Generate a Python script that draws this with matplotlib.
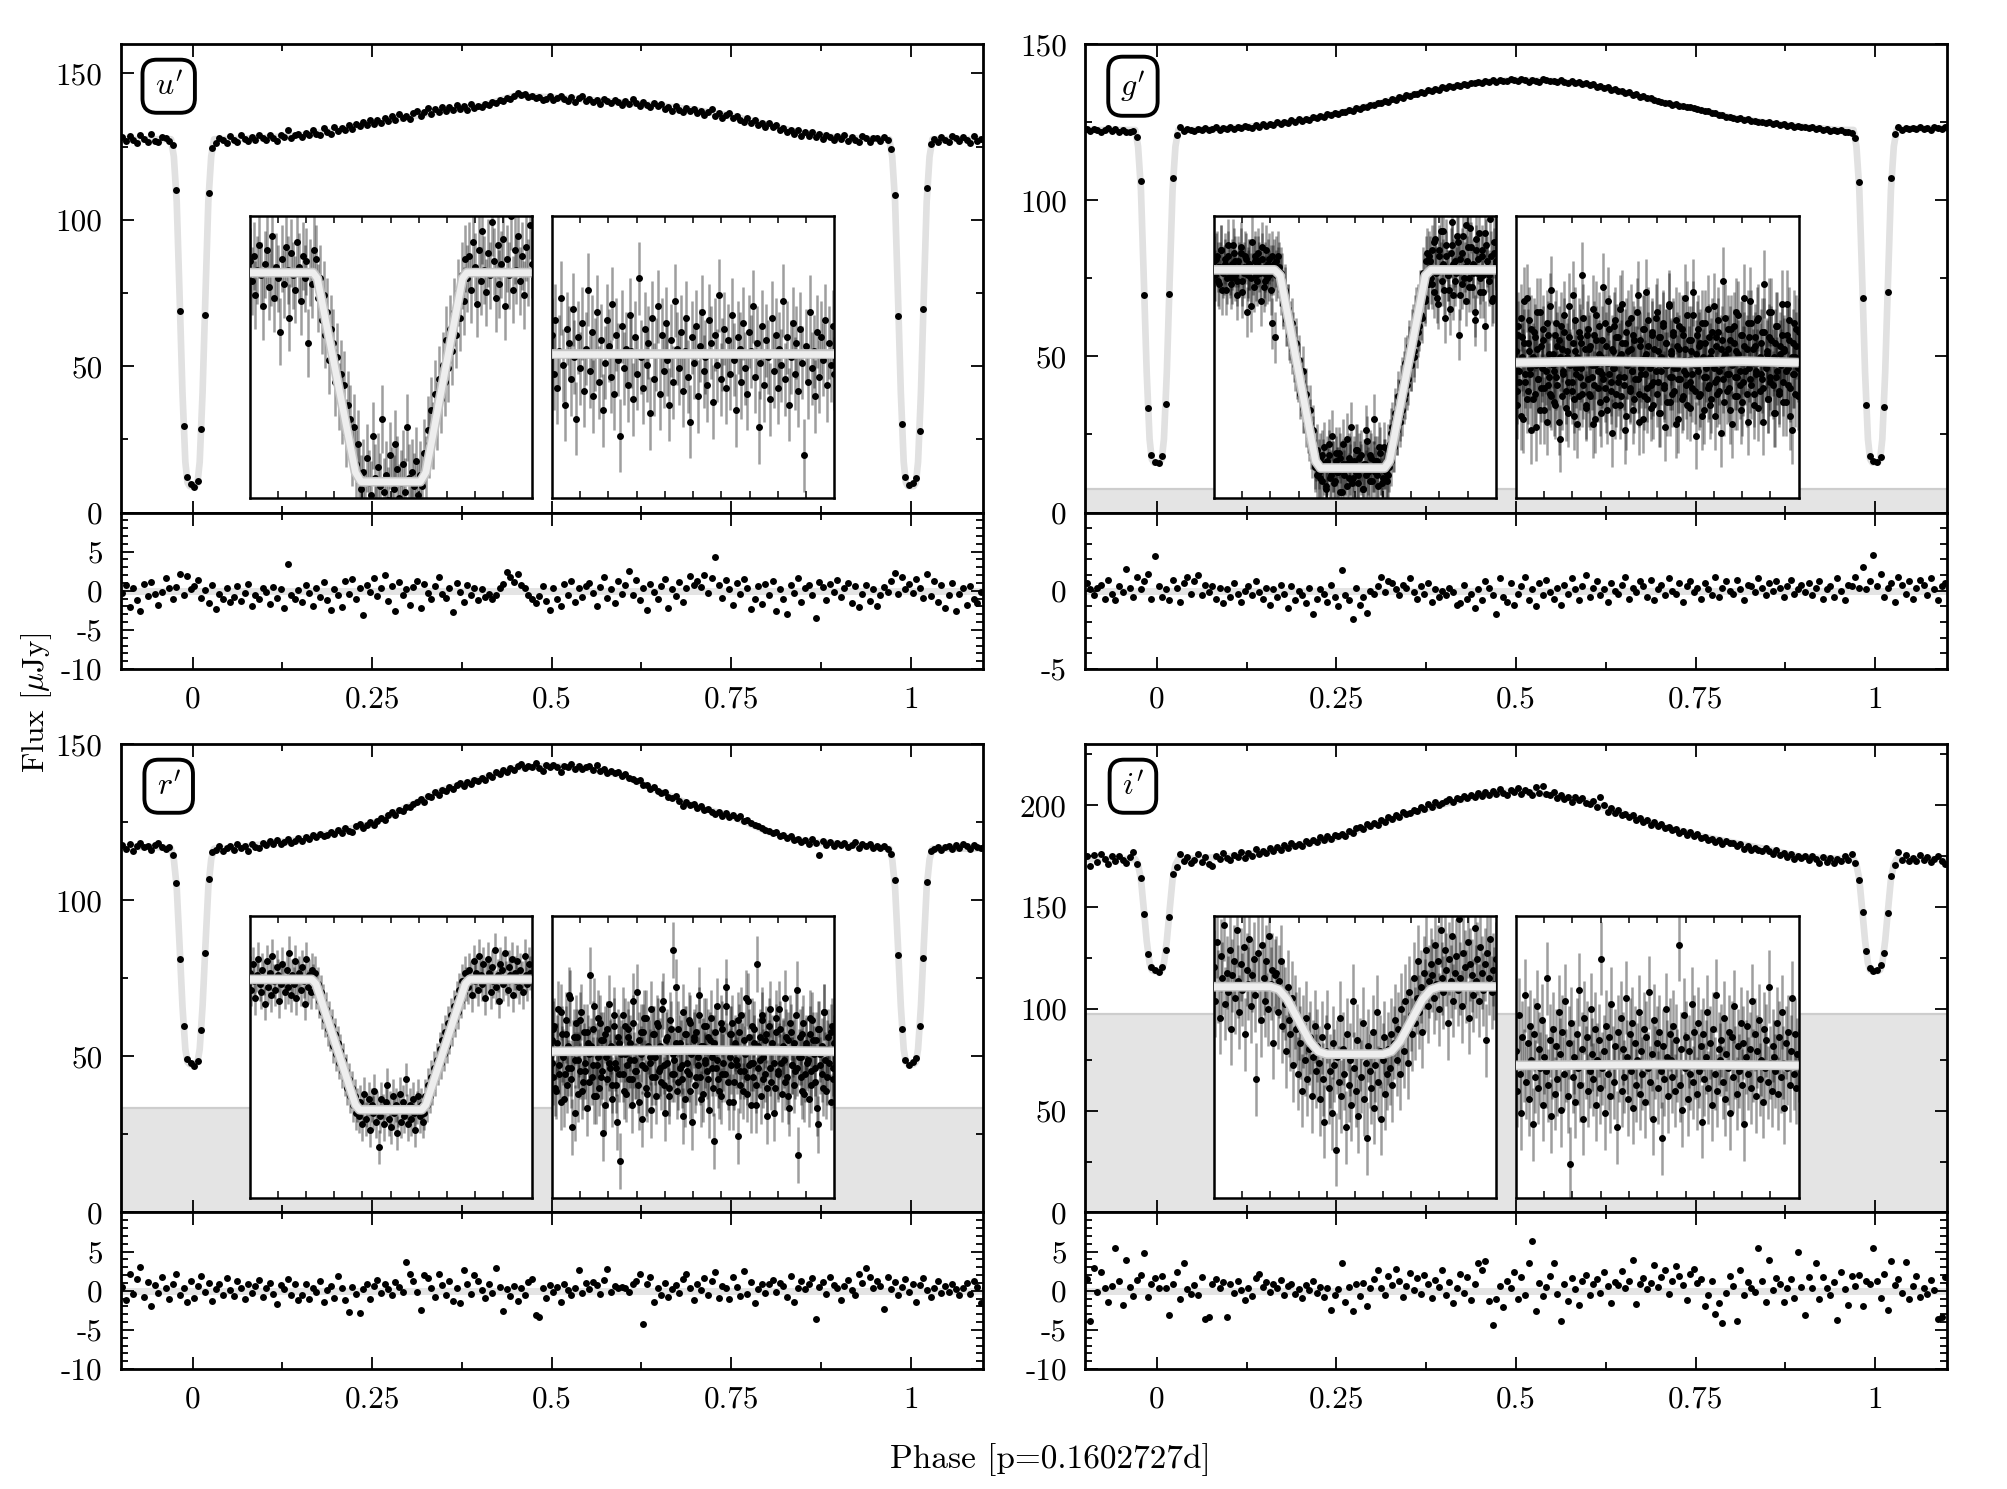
# light curves of the eclipsing binary in u' g' r' i', with residuals and zoom insets
import numpy as np
import matplotlib
matplotlib.use('Agg')
import matplotlib.pyplot as plt
from matplotlib.ticker import MultipleLocator

plt.rcParams['font.family'] = 'cmr10'
plt.rcParams['mathtext.fontset'] = 'cm'
plt.rcParams['axes.unicode_minus'] = False

# ---------------- data ----------------
# phase of every observation bin (0.005 wide)
phase = -0.0975 + 0.005 * np.arange(241)

flux_u = [128.1, 126.9, 128.6, 127.2, 126.3, 128.9, 127.7, 126.6, 129.2, 127.0,
          126.4, 128.3, 127.9, 126.8, 125.6, 110.2, 68.9, 29.6, 12.1, 9.6,
          8.7, 10.9, 28.4, 67.5, 109.1, 124.6, 126.2, 128.0, 127.3, 126.1,
          128.5, 127.1, 126.4, 128.8, 127.6, 126.9, 128.2, 127.4, 129.0, 127.8,
          127.3, 128.9, 127.8, 126.9, 129.1, 128.2, 130.6, 127.9, 128.8, 129.4,
          128.2, 129.7, 128.9, 130.5, 129.3, 128.8, 131.2, 130.0, 129.4, 131.6,
          130.2, 131.4, 130.6, 132.5, 131.0, 132.8, 131.9, 133.4, 132.2, 134.1,
          132.7, 133.9, 133.2, 134.8, 133.6, 135.5, 134.0, 136.2, 134.6, 135.3,
          134.4, 136.3, 137.1, 135.6, 136.9, 138.0, 136.2, 137.8, 136.9, 138.5,
          137.0, 138.4, 137.6, 139.2, 137.9, 138.8, 137.5, 139.5, 138.3, 139.0,
          138.4, 139.6, 139.1, 140.3, 139.8, 141.0, 140.4, 141.6, 141.2, 142.4,
          143.4, 142.6, 143.1, 141.9, 142.3, 141.5, 142.0, 140.8, 141.4, 142.2,
          140.9, 141.7, 142.4, 141.1, 140.6, 141.9, 140.3, 141.5, 142.1, 140.7,
          141.4, 140.2, 140.9, 139.6, 141.2, 140.5, 139.8, 141.0, 140.1, 139.3,
          140.4, 139.5, 141.2, 139.8, 138.9, 140.1, 139.3, 138.4, 139.9, 138.7,
          139.4, 137.9, 138.6, 137.2, 138.9, 137.6, 136.8, 138.1, 137.0, 137.9,
          136.6, 137.2, 135.9, 136.8, 137.9, 135.4, 136.3, 134.9, 135.8, 136.5,
          134.8, 135.6, 134.2, 133.5, 134.6, 133.1, 133.9, 132.4, 133.2, 131.8,
          132.9, 131.6, 132.2, 130.5, 131.4, 130.0, 130.8, 129.3, 130.5, 128.7,
          129.8, 128.6, 130.1, 128.2, 129.4, 127.5, 128.9, 128.1, 127.2, 128.6,
          127.6, 128.8, 126.9, 128.2, 127.1, 126.4, 128.5, 127.8, 126.7, 128.0,
          127.9, 126.8, 128.4, 127.3, 124.2, 108.5, 67.0, 30.2, 12.3, 9.3,
          10.1, 11.8, 27.8, 69.4, 110.8, 125.9, 127.6, 126.5, 128.3, 127.1,
          126.4, 128.6, 127.8, 126.9, 128.1, 127.3, 126.2, 128.5, 127.0, 127.7, 126.8]

resid_u = [-0.3, 0.8, -2.1, 0.4, -1.2, -2.6, 0.9, -0.7, 1.1, -0.4,
           -1.8, -0.2, 1.6, 0.3, -1.1, 0.5, 2.2, -0.6, 1.9, 0.2,
           0.6, 1.4, -0.9, 0.1, -1.6, 0.7, -2.3, -0.4, -1.0, 0.3,
           -1.5, -0.8, 0.6, -1.3, -0.3, 0.9, -2.0, -0.5, -1.1, 0.4,
           -0.2, -1.7, 0.5, -0.9, 0.2, -2.2, 3.4, -0.6, -1.0, 0.1,
           -1.4, 0.7, -0.3, -1.9, 0.4, -0.8, 1.1, -1.2, -2.4, 0.2,
           -0.6, -2.1, 1.2, -0.4, 1.5, -1.0, 0.3, -3.1, 0.8, -0.2,
           1.6, -0.7, 0.4, 2.0, -1.3, 0.6, -2.6, 1.1, -0.5, 0.2,
           -1.8, 0.5, 1.3, -2.2, 0.9, -0.3, -1.1, 0.6, 1.7, -0.4,
           -0.9, 0.3, -2.7, 1.0, -0.2, -1.5, 0.7, -0.6, 0.4, -1.2,
           0.2, -0.8, -0.4, -1.0, -0.6, 0.3, 0.9, 2.4, 1.8, 1.1,
           2.1, 0.8, 0.3, -0.5, -1.0, -1.6, -0.7, 0.6, -1.3, -2.4,
           0.4, -1.1, -2.0, 0.9, -0.5, 1.2, -1.4, 0.3, -0.8, 0.6,
           1.0, -0.3, -1.9, 0.5, 1.7, -0.9, 0.2, -1.6, 1.3, -0.4,
           0.7, 2.5, -0.6, 1.4, -1.2, 0.3, -2.5, 0.9, -0.1, -1.0,
           0.6, 1.5, -2.2, 0.2, -0.7, 1.1, -1.4, 0.4, 1.9, 0.8,
           1.2, 0.5, 2.0, -0.3, 1.6, 4.3, 0.7, -0.9, 1.4, 0.2,
           -1.8, 1.0, -0.4, 1.5, 0.3, -2.3, -1.1, 0.6, -1.7, 0.9,
           -0.5, 1.3, -2.6, 0.2, -1.0, -3.0, 0.7, -0.3, 1.6, -1.4,
           0.4, 0.8, -0.6, -3.5, 1.1, 0.5, -1.2, 0.9, -0.2, 1.4,
           -0.8, 0.3, 1.0, -1.6, 0.6, -2.1, -0.4, 0.8, -1.3, 0.2,
           -1.9, -0.6, 0.5, -0.2, 1.2, 2.3, -0.4, 1.8, 0.2, 0.9,
           -0.3, 1.5, 0.4, -0.9, 2.1, -0.7, 1.3, -1.5, 0.8, -2.2,
           -0.5, 1.0, -2.6, -0.4, 0.3, -1.8, 0.6, -1.0, -1.6, -0.2, -1.3]

flux_g = [122.8, 122.1, 122.9, 122.4, 121.8, 122.6, 123.1, 122.2, 122.7, 121.9,
          122.5, 122.0, 121.7, 122.3, 120.1, 106.0, 69.8, 33.6, 18.4, 16.3,
          15.9, 18.0, 34.8, 70.1, 107.2, 121.0, 123.3, 122.2, 122.9, 122.4,
          122.1, 122.9, 122.6, 123.2, 122.4, 122.8, 123.4, 122.5, 123.0, 122.7,
          123.3, 122.8, 123.6, 123.1, 123.9, 123.4, 123.0, 124.1, 123.6, 124.3,
          123.8, 124.5, 124.2, 124.9, 124.4, 125.1, 124.8, 125.6, 125.0, 125.9,
          125.4, 126.1, 125.8, 126.6, 126.3, 127.1, 126.7, 127.5, 127.2, 128.0,
          127.6, 128.4, 128.1, 128.9, 128.7, 129.5, 129.1, 130.0, 129.8, 130.6,
          130.4, 131.2, 131.0, 131.8, 131.5, 132.4, 132.1, 133.0, 132.8, 133.6,
          133.4, 134.1, 133.9, 134.7, 134.4, 135.2, 135.0, 135.6, 135.4, 136.1,
          135.9, 136.5, 136.3, 136.9, 136.7, 137.3, 137.0, 137.6, 137.4, 137.9,
          137.6, 138.2, 138.0, 138.4, 137.9, 138.6, 138.3, 138.1, 138.7, 138.4,
          138.2, 138.8, 138.5, 138.0, 138.6, 138.3, 137.9, 138.7, 138.4, 138.1,
          138.3, 137.8, 138.4, 137.9, 137.5, 138.1, 137.4, 137.8, 137.2, 137.5,
          136.8, 137.2, 136.4, 136.5, 135.9, 136.2, 135.4, 135.6, 134.9, 135.0,
          134.3, 134.5, 133.8, 133.9, 133.1, 133.3, 132.6, 132.8, 132.0, 131.9,
          131.4, 131.0, 131.2, 130.6, 130.7, 130.2, 130.3, 129.7, 129.9, 129.4,
          129.1, 128.9, 128.6, 128.5, 128.0, 127.9, 127.3, 127.4, 126.8, 126.7,
          126.4, 126.1, 126.2, 125.7, 125.9, 125.3, 125.5, 125.0, 125.2, 124.7,
          124.9, 124.4, 124.6, 124.1, 124.3, 123.8, 124.0, 123.6, 123.9, 123.4,
          123.6, 123.1, 123.3, 122.8, 123.0, 122.6, 122.9, 122.3, 122.5, 122.1,
          122.4, 121.8, 122.0, 121.5, 120.0, 105.7, 68.6, 34.5, 18.2, 16.4,
          16.1, 17.8, 33.9, 70.6, 107.0, 121.3, 123.4, 122.6, 123.2, 122.8,
          123.1, 122.7, 123.4, 122.9, 123.2, 122.6, 123.3, 123.0, 122.8, 123.5, 122.9]

resid_g = [0.5, 0.1, -0.3, 0.2, 0.4, -0.5, 0.7, -0.2, -0.6, 0.3,
           -0.1, 1.4, 0.2, -0.4, 0.9, 0.1, 0.6, 1.1, -0.5, 2.2,
           0.3, -0.4, 0.1, -0.6, 0.7, 0.2, -0.7, 0.5, 0.9, -0.2,
           0.6, 1.0, -0.3, 0.4, -0.1, 0.3, -0.5, 0.2, -0.8, 0.1,
           -0.4, 0.5, -0.2, -0.7, 0.0, 0.3, -0.3, 0.6, -0.1, -0.5,
           0.2, -0.9, 0.1, -0.4, 0.4, -0.2, -1.1, 0.3, -0.6, 0.0,
           -0.3, -0.8, 0.2, -1.5, -0.5, 0.1, -0.2, -0.7, 0.4, -0.4,
           -1.0, 1.3, -0.3, -0.6, -1.8, 0.2, -0.9, -0.4, -1.4, 0.0,
           -0.2, 0.3, 0.9, -0.1, 0.6, 0.5, 0.1, -0.3, 0.4, 0.2,
           0.8, -0.1, -0.5, 0.3, -0.2, 0.5, -0.7, 0.1, -0.4, 0.0,
           -0.3, 0.2, -0.1, -0.9, -0.8, 0.4, -0.5, -0.2, -1.1, 0.1,
           -0.6, 0.6, 0.2, -0.3, -1.5, 0.8, -0.4, -0.7, 0.5, -0.9,
           -0.2, 0.3, 0.9, -0.6, 0.1, -1.0, 0.5, -0.3, 0.7, -0.1,
           -0.5, 0.2, -0.9, 0.4, -0.2, 0.8, 0.1, -0.6, 0.3, 1.0,
           -0.4, 0.2, 0.6, -0.3, 0.1, -0.7, 0.5, 0.0, -0.2, 0.4,
           0.9, -0.5, 0.2, -0.1, 0.6, 0.3, -0.4, 0.7, -0.6, 0.1,
           0.4, -0.3, 0.8, 0.0, -0.2, 0.5, -0.7, 0.3, 0.6, -0.1,
           0.2, -0.5, 0.5, 0.1, -0.3, 0.9, -0.4, 0.2, 0.6, 0.0,
           -0.2, 0.7, 0.1, -0.6, 0.4, 0.3, -0.1, 0.8, 0.2, -0.3,
           0.5, 0.0, 0.6, 0.2, -0.4, 0.3, 0.7, -0.2, 0.1, 0.4,
           -0.1, 0.5, -0.3, 0.2, 0.6, -0.5, 0.1, 0.3, -0.4, 0.8,
           0.0, -0.6, 0.4, 0.3, 0.9, 0.2, 1.5, 0.1, 0.6, 2.3,
           0.3, 1.1, -0.4, 0.2, 0.5, -0.7, 0.9, 0.4, -0.2, 0.6,
           -0.5, 0.2, 0.7, 0.4, -0.3, 0.8, 0.1, -0.6, 0.3, 0.5, 0.2]

flux_r = [117.6, 116.4, 117.9, 115.8, 117.2, 118.3, 116.9, 117.5, 116.1, 117.8,
          118.4, 117.0, 116.3, 117.1, 114.6, 105.4, 81.3, 59.8, 49.2, 47.9,
          46.8, 48.5, 58.4, 83.0, 106.9, 115.3, 116.0, 117.2, 115.9, 116.8,
          117.4, 116.2, 117.9, 116.7, 117.3, 115.8, 118.1, 117.0, 116.6, 118.2,
          117.6, 118.8, 118.1, 119.2, 117.9, 118.6, 119.5, 118.3, 119.1, 119.9,
          118.9, 120.2, 119.6, 120.9, 120.1, 121.3, 120.5, 121.0, 121.9, 121.2,
          122.4, 121.6, 123.0, 122.3, 121.9, 123.6, 124.4, 123.1, 124.2, 125.1,
          124.0, 125.5, 126.4, 125.8, 127.2, 128.1, 127.4, 129.0, 128.6, 129.8,
          129.7, 130.9, 131.6, 132.3, 131.4, 133.5, 132.9, 134.6, 133.8, 135.2,
          135.0, 136.3, 135.7, 136.8, 137.4, 136.6, 138.0, 137.3, 138.6, 138.1,
          139.2, 138.5, 140.1, 139.4, 141.0, 140.3, 141.8, 141.2, 142.4, 141.6,
          142.9, 143.6, 142.2, 143.1, 142.6, 143.8, 142.4, 141.3, 143.3, 142.8,
          143.4, 142.5, 140.9, 143.0, 142.7, 143.5, 142.1, 142.9, 141.9, 142.6,
          142.9, 141.6, 143.4, 141.4, 141.9, 140.8, 141.3, 140.6, 140.9, 139.7,
          140.3, 139.1, 138.9, 138.2, 138.5, 137.0, 136.8, 135.6, 136.1, 134.9,
          134.2, 134.6, 133.1, 132.8, 133.5, 131.9, 130.2, 131.4, 130.6, 130.9,
          129.6, 130.1, 128.8, 129.2, 128.4, 127.6, 128.3, 127.1, 127.9, 126.8,
          127.3, 126.2, 126.9, 125.4, 125.8, 124.6, 124.1, 123.8, 123.0, 122.5,
          122.3, 121.4, 121.9, 120.6, 121.0, 119.8, 120.4, 119.3, 119.7, 118.6,
          119.2, 118.1, 119.6, 118.4, 114.6, 118.9, 117.7, 118.5, 117.3, 118.2,
          117.6, 118.4, 116.9, 117.8, 118.7, 116.6, 117.9, 117.2, 118.1, 116.8,
          117.5, 116.7, 117.4, 116.4, 114.8, 106.5, 82.6, 58.9, 48.7, 47.3,
          48.1, 49.4, 59.6, 81.5, 105.8, 115.6, 116.3, 117.0, 116.2, 116.9,
          117.3, 116.5, 117.6, 116.8, 118.1, 117.2, 116.4, 117.7, 117.0, 116.6, 117.4]

resid_r = [0.5, -1.2, 2.1, -0.4, 1.5, 3.0, -0.8, 1.1, -2.0, 0.7,
           -0.3, 1.8, 0.4, -1.0, 0.9, 2.2, -0.6, 0.3, -1.5, 1.2,
           -0.9, 0.6, 1.9, -0.2, 1.0, -1.3, 0.2, 0.8, -0.5, 1.6,
           0.1, -0.7, 1.3, 0.4, -1.1, 0.9, -0.3, 0.6, 1.4, -0.8,
           0.3, 1.0, -0.4, -1.7, 0.7, 0.2, 1.5, -0.6, 0.9, -1.2,
           -0.5, 0.8, -1.0, 0.4, -0.2, 1.2, -1.4, 0.1, 0.6, -0.9,
           1.9, 0.3, -1.2, -2.7, 0.5, -0.4, -2.9, 0.2, 0.9, -1.0,
           0.6, 1.4, -0.3, 0.8, 0.2, -0.6, 1.1, 0.5, -0.1, 3.7,
           2.2, 1.3, -0.2, -2.4, 2.0, 1.6, 0.4, -0.8, 2.1, 0.7,
           -0.5, 1.2, -1.3, 0.3, -1.6, 2.6, 0.9, -0.4, 2.0, 1.3,
           0.1, -0.9, 0.8, -0.3, 2.9, 0.5, -2.6, 0.2, -0.7, 0.6,
           -1.3, 0.4, -0.5, 1.1, 1.5, -3.1, -3.3, 0.3, -0.9, 0.7,
           -0.2, 0.5, -1.5, 0.9, 0.1, -0.6, 0.4, 2.6, -0.3, 1.0,
           0.2, 1.1, 0.7, -0.4, 1.4, 2.8, -0.1, 0.6, 0.3, 0.5,
           0.4, -0.2, 0.8, 1.3, 2.1, -4.2, 0.9, 1.7, -1.4, 0.3,
           -0.6, 1.0, -0.8, 0.2, 0.7, -0.3, 1.5, 2.2, 0.4, -1.2,
           0.9, 0.1, 1.6, -0.5, 1.2, 2.4, -0.9, 0.6, 0.3, -1.1,
           1.8, 0.5, -0.7, 2.5, -0.4, 1.1, -1.6, 0.2, 0.9, -0.3,
           0.8, 1.4, -0.2, 1.0, 0.6, -0.8, 1.9, -1.5, 0.4, 1.3,
           0.2, 0.9, 1.6, -3.6, 0.5, 1.1, -0.4, 1.8, 0.7, 0.3,
           -1.2, 0.6, 1.4, 0.1, -0.5, 2.2, 1.0, 2.9, 1.7, 0.4,
           1.3, 0.6, -2.3, 1.8, 0.2, 1.1, -0.6, 0.5, 1.5, -0.2,
           0.9, -1.4, 0.7, 1.6, 0.1, -0.8, 0.4, 1.2, -0.3, 0.6,
           -0.1, 0.8, 0.2, -0.5, 0.3, 1.0, -0.4, 1.2, 0.5, -1.6, 0.4]

flux_i = [174.8, 170.3, 175.6, 172.1, 176.2, 173.4, 171.0, 174.9, 172.6, 175.1,
          173.0, 171.5, 174.4, 177.2, 170.9, 164.1, 146.8, 127.0, 120.3, 118.9,
          118.2, 120.5, 129.1, 145.2, 166.4, 169.8, 175.9, 172.4, 174.6, 171.8,
          173.2, 175.8, 172.0, 174.5, 171.3, 169.9, 175.0, 173.6, 176.4, 174.1,
          172.9, 175.7, 174.3, 177.1, 173.9, 176.5, 175.2, 178.4, 176.0, 177.6,
          176.4, 178.8, 177.7, 179.5, 178.2, 180.3, 179.0, 181.4, 179.9, 181.0,
          180.1, 182.3, 181.5, 183.0, 181.9, 184.2, 182.8, 184.9, 183.6, 185.3,
          184.7, 185.9, 185.0, 187.3, 186.4, 188.6, 189.5, 188.2, 190.7, 189.6,
          191.4, 190.5, 192.8, 191.9, 194.0, 193.1, 195.3, 194.4, 196.6, 195.9,
          196.3, 197.8, 197.0, 199.2, 198.1, 200.4, 199.0, 201.5, 200.2, 201.1,
          201.8, 202.9, 201.6, 203.7, 202.8, 204.3, 203.5, 205.1, 204.0, 205.9,
          204.6, 206.3, 205.2, 206.8, 205.5, 207.7, 206.0, 205.1, 207.3, 206.4,
          208.2, 205.7, 207.4, 206.6, 204.9, 208.8, 206.1, 209.4, 205.3, 204.8,
          206.5, 203.7, 205.1, 202.9, 203.8, 201.6, 204.2, 202.3, 203.5, 201.0,
          200.8, 202.2, 199.3, 203.9, 200.1, 196.6, 198.4, 196.2, 197.5, 195.1,
          195.9, 194.2, 195.4, 192.8, 193.7, 191.5, 192.6, 190.3, 191.8, 189.9,
          190.6, 188.8, 189.4, 187.6, 188.3, 186.2, 187.5, 185.4, 186.7, 184.9,
          185.8, 183.9, 184.6, 182.7, 183.5, 182.0, 183.1, 180.9, 182.4, 181.2,
          181.6, 179.8, 180.9, 178.6, 180.0, 177.9, 179.1, 178.2, 177.4, 178.8,
          177.6, 176.2, 177.9, 175.4, 176.6, 174.3, 175.8, 173.5, 175.1, 173.9,
          174.8, 172.9, 175.2, 173.4, 171.8, 174.6, 172.2, 174.0, 171.5, 173.8,
          172.6, 174.9, 173.1, 176.0, 171.4, 163.2, 147.5, 128.4, 119.8, 118.6,
          119.1, 121.3, 127.6, 146.9, 165.0, 170.7, 176.8, 173.3, 175.5, 172.7,
          174.2, 172.4, 175.3, 173.0, 174.7, 171.9, 173.6, 175.0, 172.8, 171.2, 174.4]

resid_i = [1.5, -3.9, 2.9, -0.2, 2.4, 0.3, -1.5, 0.6, 5.5, 1.2,
           -1.8, 3.9, 0.5, -0.7, 1.4, 2.0, 4.8, -0.8, 0.9, 1.6,
           0.3, 1.9, 0.4, -3.1, 0.8, 2.4, -1.0, 3.5, 0.2, -0.4,
           0.7, -0.6, 1.8, -3.6, -3.4, 0.9, 1.5, 0.4, 1.1, -3.3,
           0.8, -0.3, 1.3, 0.1, -1.2, 0.4, -0.7, 1.6, 2.1, 0.5,
           1.1, -0.2, 0.8, 0.3, 1.4, -0.5, 0.6, 0.9, -0.4, 0.2,
           -0.9, 0.7, 0.1, 1.2, -0.3, 0.5, -0.8, 0.4, -2.4, -0.6,
           0.2, 3.6, -1.4, 0.5, -2.6, 0.8, -0.7, 1.0, -1.9, 0.3,
           1.5, 2.6, 0.4, -0.5, 1.9, 0.7, 2.8, 1.2, -0.8, 0.6,
           2.3, 0.1, 1.6, -0.4, 2.0, 0.9, -0.9, 1.4, 0.5, 2.7,
           -0.6, 1.1, -1.6, 0.3, 2.1, -0.3, 1.7, -1.2, 0.8, 3.6,
           2.7, 3.8, -1.3, -4.4, -1.0, 0.6, -2.1, 1.3, 0.4, 2.4,
           -1.1, 1.8, -0.6, 3.5, 6.3, -2.6, 1.0, -0.7, 0.5, 1.9,
           3.5, -0.4, -3.9, 0.8, -1.3, 1.6, 0.2, -1.8, 1.2, 2.0,
           -0.5, 0.9, 1.5, -0.3, 2.4, 0.6, -1.6, 1.1, 0.7, 2.5,
           0.4, 1.3, 3.9, -1.7, 0.8, 1.6, 0.2, 1.0, 3.3, 0.5,
           1.7, 2.6, -0.4, 1.2, 3.2, 1.9, 0.7, -1.2, 2.2, 2.8,
           1.0, 1.5, -2.0, -0.5, 1.3, -3.0, -1.6, -4.1, -0.3, 1.9,
           0.6, -3.9, 2.6, -0.6, 1.1, 0.3, -0.2, 5.4, 1.2, -1.5,
           3.9, 0.1, 1.6, 0.8, -1.4, 0.4, 1.5, -0.9, 4.9, 0.5,
           -3.1, 1.7, 0.3, 3.5, -1.0, 1.8, 0.4, -0.5, 1.1, -3.7,
           2.4, 0.2, -1.8, 1.9, 0.6, 2.0, -1.9, 1.3, 0.9, 5.5,
           1.2, -0.9, 2.2, -2.4, 3.8, 0.7, 1.5, -0.3, 3.7, -1.1,
           0.6, 1.9, -0.8, 0.3, -0.4, 1.4, 0.1, -3.6, -3.4, 1.8, 0.9]

# fitted model, sampled at these phases
model_phase = [-0.1, -0.05,
               -0.03, -0.026, -0.022, -0.018, -0.014, -0.01, -0.007, -0.004,
               0.004, 0.007, 0.01, 0.014, 0.018, 0.022, 0.026, 0.03,
               0.05, 0.1, 0.15, 0.2, 0.25, 0.3, 0.35, 0.4, 0.45, 0.5,
               0.55, 0.6, 0.65, 0.7, 0.75, 0.8, 0.85, 0.9, 0.95,
               0.97, 0.974, 0.978, 0.982, 0.986, 0.99, 0.993, 0.996,
               1.004, 1.007, 1.01, 1.014, 1.018, 1.022, 1.026, 1.03,
               1.05, 1.1]
model_u = [127.5, 127.5,
           127.5, 121.6, 106.2, 74.2, 41.0, 17.3, 10.2, 9.0,
           9.0, 10.2, 17.3, 41.0, 74.2, 106.2, 121.6, 127.5,
           127.5, 128.0, 128.8, 130.5, 133.0, 135.0, 137.3, 138.7, 142.5, 141.8,
           141.0, 140.0, 139.0, 137.5, 135.5, 132.5, 129.5, 128.0, 127.5,
           127.5, 121.6, 106.2, 74.2, 41.0, 17.3, 10.2, 9.0,
           9.0, 10.2, 17.3, 41.0, 74.2, 106.2, 121.6, 127.5,
           127.5, 127.5]
model_g = [122.5, 122.5,
           122.5, 117.2, 103.3, 74.6, 44.8, 23.5, 17.1, 16.0,
           16.0, 17.1, 23.5, 44.8, 74.6, 103.3, 117.2, 122.5,
           122.5, 123.0, 124.0, 125.5, 127.7, 130.5, 133.5, 136.0, 137.8, 138.5,
           138.2, 137.0, 134.5, 131.5, 129.3, 126.5, 124.8, 123.5, 122.5,
           122.5, 117.2, 103.3, 74.6, 44.8, 23.5, 17.1, 16.0,
           16.0, 17.1, 23.5, 44.8, 74.6, 103.3, 117.2, 122.5,
           123.0, 123.0]
model_r = [117.0, 117.0,
           116.5, 113.1, 104.1, 85.5, 66.1, 52.3, 48.2, 47.5,
           47.5, 48.2, 52.3, 66.1, 85.5, 104.1, 113.1, 116.5,
           116.5, 118.0, 119.5, 121.8, 124.5, 130.0, 135.5, 138.7, 142.5, 143.0,
           142.3, 140.0, 134.8, 130.0, 127.0, 122.0, 118.8, 118.0, 117.0,
           116.5, 113.1, 104.1, 85.5, 66.1, 52.3, 48.2, 47.5,
           47.5, 48.2, 52.3, 66.1, 85.5, 104.1, 113.1, 116.5,
           116.5, 116.5]
model_i = [173.5, 173.5,
           173.5, 170.8, 163.6, 148.8, 133.4, 122.4, 119.1, 118.5,
           118.5, 119.1, 122.4, 133.4, 148.8, 163.6, 170.8, 173.5,
           173.7, 174.8, 177.0, 180.6, 184.1, 190.0, 195.8, 200.5, 205.0, 207.0,
           205.0, 201.6, 195.8, 190.0, 185.3, 181.8, 178.3, 174.4, 173.7,
           173.5, 170.8, 163.6, 148.8, 133.4, 122.4, 119.1, 118.5,
           118.5, 119.1, 122.4, 133.4, 148.8, 163.6, 170.8, 173.5,
           173.5, 173.5]

# flux level of the contaminating light (grey band)
band_u, band_g, band_r, band_i = 0.0, 7.5, 33.5, 97.5

# ---- insets: flux in percent of inset height; model nodes as (x, y) ----
ins1_u = [84, 77, 86, 72, 81, 90, 79, 68, 83, 88, 75, 80, 93, 71, 82, 78, 59, 85, 76, 89,
          81, 64, 87, 79, 74, 91, 82, 70, 86, 78, 84, 55, 80, 76, 88,
          85, 71, 78, 63, 72, 58, 66, 49, 60, 55, 41, 50, 36, 44, 31, 40, 23, 33, 28, 16,
          25, 12, 19, 6,
          3, 9, -2, 14, 5, 1, 22, 7, -4, 11, 4, 28, 2, 8, -1, 15, 6, 3, 19, 10, 0, 5, 12, 2,
          25, 7, -3, 9, 4, 13, 1, 8,
          4, 16, 10, 24, 19, 31, 22, 37, 29, 42, 35, 47, 41, 56, 46, 60, 52, 66, 58, 73,
          64, 79, 70, 85,
          78, 86, 74, 91, 82, 69, 88, 77, 95, 81, 73, 87, 79, 98, 84, 71, 90, 76, 83, 92,
          68, 85, 79, 100, 74, 88, 81, 93, 77, 86, 72, 89, 80, 97, 83]
ins1_u_mx = [0, 0.225, 0.24, 0.375, 0.395, 0.605, 0.625, 0.755, 0.77, 1]
ins1_u_my = [80, 80, 78, 9, 5.6, 5.6, 9, 78, 80, 80]
ins2_u = [58, 44, 63, 39, 52, 71, 47, 33, 60, 55, 42, 67, 50, 28, 57, 46, 62, 38, 53, 74,
          45, 59, 36, 51, 66, 41, 56, 31, 48, 63, 54, 43, 69, 37, 58, 49, 22, 61, 46, 53,
          40, 65, 52, 35, 57, 44, 78, 50, 39, 60, 47, 55, 30, 64, 42, 51, 68, 37, 58, 45,
          62, 49, 33, 56, 41, 70, 53, 46, 59, 38, 52, 64, 43, 27, 57, 48, 61, 36, 54, 66,
          45, 50, 40, 63, 55, 34, 58, 47, 72, 42, 51, 60, 39, 56, 44, 65, 49, 31, 57, 53,
          41, 62, 46, 37, 59, 52, 68, 43, 55, 25, 48, 61, 40, 56, 50, 35, 64, 45, 58, 39,
          53, 47, 70, 42, 57, 33, 50, 62, 44, 55, 38, 60, 48, 15, 54, 41, 66, 46, 52, 36,
          59, 43, 57, 49, 63, 40, 55, 47, 61, 44]
ins2_u_mx = [0, 1]
ins2_u_my = [51, 51]

ins1_g = [84, 79, 86, 77, 82, 88, 74, 81, 85, 78, 90, 80, 76, 83, 87, 79, 72, 84, 81, 89,
          77, 82, 86, 66, 80, 83, 78, 91, 75, 84, 79, 87, 82, 70, 85, 80, 77, 88, 83, 79,
          74, 86, 81, 57, 84, 80,
          82, 74, 78, 69, 73, 63, 67, 58, 61, 53, 57, 47, 52, 43, 46, 37, 41, 32, 36, 27,
          31, 22, 26, 16, 20, 11, 15, 8,
          9, 14, 6, 12, 18, 3, 10, 15, 7, 22, 11, 5, 13, 9, 16, 2, 11, 19, 8, 12,
          4, 14, 10, 25, 7, 13, 9, 17, 5, 11, 15, 3, 12, 8, 20, 10, 6, 14, 11, 28,
          9, 13, 4, 16, 10, 7, 18, 12, 6,
          8, 19, 13, 25, 18, 28, 24, 33, 27, 38, 31, 43, 37, 49, 42, 52, 47, 58, 50, 63,
          55, 67, 61, 72, 64, 78, 70, 84, 76, 86,
          78, 88, 73, 92, 81, 69, 86, 95, 77, 83, 64, 90, 79, 74, 87, 98, 72, 84, 80, 91,
          58, 85, 76, 93, 82, 70, 89, 78, 96, 75, 83, 66, 88, 80, 94, 73, 86, 79, 61, 90,
          84, 77, 99, 81, 71, 87, 83]
ins1_g_b = [79, 85, 82, 76, 88, 80, 83, 74, 86, 81, 78, 90, 84, 77, 82, 87, 73, 80, 85, 79,
            83, 68, 81, 86, 77, 84, 80, 89, 75, 82, 78, 85, 81, 62, 83, 79, 86,
            77, 80, 70, 74, 63, 67, 57, 62, 50, 55, 44, 49, 38, 45, 32, 37, 25, 31, 19, 24,
            12, 17,
            12, 7, 15, 10, 4, 13, 19, 8, 11, 6, 16, 9, 14, 2, 12, 10, 21, 7, 13, 5,
            11, 17, 8, 14, 10, 3, 12, 24, 9, 15, 6, 11, 13, 8, 18, 10, 5, 12, 9,
            17, 11, 23, 18, 30, 24, 36, 29, 41, 35, 48, 40, 54, 47, 60, 52, 66, 59, 72, 65,
            80, 71, 87, 76,
            84, 76, 91, 80, 71, 88, 82, 95, 74, 86, 79, 67, 90, 83, 77, 93, 81, 72, 87, 78,
            97, 84, 75, 89, 80, 63, 92, 85, 78, 88, 73, 94, 82, 79, 86, 70, 91, 84]
ins1_g_mx = [0, 0.215, 0.235, 0.36, 0.378, 0.605, 0.623, 0.75, 0.77, 1]
ins1_g_my = [81, 81, 79, 13, 10.5, 10.5, 13, 79, 81, 81]
ins2_g = [52, 38, 61, 45, 29, 57, 48, 70, 41, 35, 55, 63, 44, 24, 50, 59, 37, 47, 66, 42,
          31, 54, 46, 60, 39, 49, 27, 58, 43, 68, 36, 51, 45, 33, 62, 40, 56, 21, 48, 53,
          44, 65, 38, 50, 30, 57, 47, 41, 72, 35, 52, 46, 26, 59, 43, 55, 37, 64, 49, 32,
          58, 42, 53, 36, 47, 67, 40, 28, 56, 45, 61, 34, 50, 44, 75, 39, 54, 31, 48, 60,
          41, 23, 52, 46, 63, 37, 57, 43, 33, 51, 69, 40, 55, 29, 47, 62, 38, 53, 45, 58,
          35, 49, 66, 42, 27, 56, 44, 60, 36, 50, 73, 39, 54, 46, 32, 59, 41, 48, 64, 37,
          52, 30, 57, 45, 61, 40, 25, 55, 47, 68, 34, 51, 43, 58, 38, 63, 46, 28, 53, 42,
          60, 36, 49, 71, 44, 33, 56, 41, 52, 39, 65, 47, 22, 58, 45, 54, 37, 62, 48, 31,
          55, 43, 67, 40, 50, 35, 59, 46, 29, 57, 42, 63, 38, 53, 47, 77, 34, 51, 44, 60,
          39, 56, 48, 26, 61, 43, 52, 36, 65, 45, 31, 58, 41, 54, 49, 37, 62, 46, 70, 40,
          53, 33, 57, 44, 48, 64, 38, 55, 42, 27, 59, 47, 51, 35, 66, 43, 56, 40, 50, 30,
          61, 45, 37, 54, 48, 69, 41, 52, 34, 58, 46, 63, 39, 24, 55, 44, 50, 60, 36, 47]
ins2_g_b = [47, 33, 58, 41, 64, 50, 28, 55, 44, 71, 38, 52, 46, 60, 35, 49, 57, 25, 53, 42,
            66, 39, 48, 56, 31, 45, 62, 40, 51, 37, 74, 47, 34, 58, 43, 54, 27, 50, 61, 36,
            45, 59, 32, 52, 41, 68, 48, 38, 55, 29, 63, 44, 50, 36, 57, 46, 79, 40, 53, 33,
            49, 60, 37, 54, 43, 26, 58, 47, 65, 39, 51, 45, 30, 56, 42, 62, 35, 48, 70, 44,
            38, 53, 46, 61, 33, 57, 41, 50, 67, 36, 55, 43, 24, 59, 47, 52, 39, 64, 45, 31,
            56, 42, 49, 72, 37, 54, 46, 28, 60, 44, 51, 35, 63, 48, 40, 58, 33, 53, 45, 66,
            41, 57, 30, 50, 62, 39, 47, 55, 34, 69, 43, 52, 37, 59, 46, 26, 54, 42, 61, 48,
            35, 58, 45, 53, 40, 65, 49, 32, 56, 44, 73, 38, 51, 47, 60, 36, 55, 29, 50, 43,
            62, 46, 39, 57, 33, 52, 48, 68, 41, 54, 37, 59, 45, 23, 56, 42, 50, 64, 38, 53,
            44, 31, 60, 47, 55, 36, 66, 43, 51, 40, 58, 34, 49, 71, 45, 53, 27, 57, 42, 62,
            48, 37, 54, 45, 63, 32, 50, 44, 59, 39, 76, 46, 52, 35, 57, 41, 66, 48, 30, 55,
            43, 61, 38, 51, 47, 58, 34, 53, 45, 69, 40, 56, 29, 50, 44, 62, 37, 54, 46, 59]
ins2_g_mx = [0, 0.3, 0.6, 0.8, 1]
ins2_g_my = [48, 48.5, 48, 48.5, 48]

ins1_r = [80, 74, 83, 77, 71, 79, 85, 76, 73, 81, 78, 69, 84, 75, 80, 72, 86, 77, 74, 82,
          79, 70, 76, 83, 78, 73, 81, 75, 87, 72, 79, 76, 84, 71, 78, 80, 74, 82, 77, 69,
          85, 75, 79, 73, 81, 77,
          80, 73, 76, 70, 73, 66, 70, 63, 67, 60, 64, 58, 61, 54, 58, 51, 55, 48, 52, 45,
          49, 42, 45, 39, 42, 36, 39, 33, 36, 30, 33,
          29, 34, 26, 32, 37, 28, 31, 35, 24, 33, 30, 38, 27, 32, 18, 29, 35, 31, 26, 34,
          40, 28, 32, 25, 36, 30, 33, 23, 31, 37, 27, 34, 29, 42, 31, 26, 33, 28, 35, 30,
          24, 32, 36, 29, 33, 27,
          30, 36, 33, 40, 36, 43, 39, 46, 42, 49, 46, 53, 48, 56, 51, 59, 54, 62, 57, 65,
          60, 68, 63, 71, 66, 74, 70, 77, 73, 80, 76,
          75, 81, 78, 72, 84, 77, 80, 74, 86, 79, 76, 83, 71, 78, 85, 80, 73, 82, 77, 88,
          75, 79, 70, 83, 81, 76, 87, 78, 74, 82, 79, 85, 72, 80, 77, 84, 75, 81, 78, 73,
          86, 79, 76, 83, 80, 77]
ins1_r_mx = [0, 0.22, 0.235, 0.375, 0.39, 0.61, 0.625, 0.765, 0.78, 1]
ins1_r_my = [77.6, 77.6, 76, 33, 31.2, 31.2, 33, 76, 77.6, 77.6]
ins2_r = [56, 43, 61, 38, 52, 67, 47, 34, 58, 50, 44, 63, 40, 54, 71, 46, 25, 57, 49, 62,
          37, 53, 45, 66, 41, 59, 48, 32, 55, 51, 79, 43, 60, 36, 52, 47, 64, 39, 56, 45,
          23, 58, 50, 42, 69, 46, 54, 35, 61, 48, 40, 57, 44, 13, 53, 65, 38, 51, 47, 60,
          42, 55, 33, 62, 49, 45, 73, 40, 56, 51, 28, 59, 46, 64, 37, 53, 48, 67, 43, 58,
          50, 36, 61, 45, 54, 41, 70, 47, 30, 57, 52, 39, 63, 44, 88, 49, 55, 38, 60, 46,
          53, 42, 66, 35, 58, 48, 44, 62, 51, 27, 56, 40, 59, 47, 72, 43, 54, 37, 61, 49,
          45, 57, 31, 64, 50, 39, 55, 46, 68, 42, 53, 36, 60, 48, 44, 75, 52, 34, 58, 47,
          62, 41, 54, 49, 22, 59, 45, 65, 38, 56, 51, 43, 70, 47, 33, 61, 48, 55, 40, 83,
          46, 57, 36, 63, 50, 44, 58, 29, 53, 67, 41, 55, 48, 39, 64, 45, 52, 60, 37, 54,
          49, 71, 43, 56, 32, 59, 47, 53, 40, 65, 46, 15, 57, 50, 38, 62, 44, 55, 48, 35,
          58, 45, 63, 51, 41, 56, 26, 60, 47, 54, 39, 66, 49, 43, 57, 52, 34, 61, 46, 53]
ins2_r_b = [48, 60, 39, 55, 44, 66, 51, 35, 58, 46, 72, 42, 53, 30, 57, 49, 63, 38, 52, 45,
            59, 41, 54, 47, 68, 36, 50, 62, 43, 56, 33, 60, 48, 53, 40, 65, 46, 27, 55, 51,
            44, 61, 37, 57, 49, 42, 70, 45, 52, 34, 59, 47, 64, 39, 54, 50, 31, 58, 43, 62,
            53, 46, 67, 40, 56, 48, 36, 60, 51, 44, 75, 41, 55, 47, 29, 58, 45, 63, 38, 52,
            57, 43, 50, 65, 35, 54, 48, 61, 42, 56, 46, 20, 59, 49, 38, 62, 44, 53, 68, 41,
            50, 58, 34, 55, 47, 63, 40, 52, 45, 71, 37, 57, 48, 43, 60, 33, 54, 49, 65, 42,
            56, 39, 61, 46, 52, 30, 59, 44, 67, 48, 53, 41, 57, 36, 62, 47, 55, 45, 74, 50,
            43, 58, 37, 54, 49, 64, 40, 56, 46, 32, 60, 51, 44, 66, 38, 53, 48, 59, 42, 55]
ins2_r_mx = [0, 0.5, 1]
ins2_r_my = [52, 52.5, 52]

ins1_i = [82, 70, 91, 75, 64, 86, 78, 97, 69, 80, 73, 88, 60, 79, 84, 71, 95, 77, 66, 83,
          74, 89, 58, 81, 76, 92, 68, 79, 85, 72, 42, 87, 75, 63, 90, 78, 70, 84, 67, 93,
          76, 81, 55, 79,
          80, 66, 77, 84, 61, 72, 69, 52, 75, 63, 58, 71, 47, 66, 60, 44, 62, 55, 38, 59,
          49, 64, 42, 53, 57, 36, 50, 61, 45, 54,
          48, 35, 57, 42, 27, 52, 61, 39, 45, 30, 55, 47, 17, 50, 41, 64, 36, 53, 44, 25,
          58, 40, 49, 33, 70, 46, 38, 56, 29, 51, 43, 62, 35, 48, 21, 54, 45, 39, 59, 32,
          47, 66, 41, 52, 28, 49, 57, 37, 44, 53,
          46, 58, 40, 55, 63, 49, 60, 44, 67, 57, 52, 70, 61, 48, 73, 65, 58, 78, 62, 71,
          84, 66, 75, 59, 80, 72, 88, 68, 77, 83,
          79, 71, 90, 76, 84, 67, 95, 78, 73, 88, 81, 62, 85, 77, 93, 70, 80, 86, 74, 99,
          78, 68, 87, 82, 75, 91, 64, 83, 79, 72, 96, 77, 85, 70, 89, 80, 74, 83, 56, 87,
          78, 92, 73, 81, 76, 85]
ins1_i_mx = [0, 0.2, 0.23, 0.26, 0.3, 0.34, 0.37, 0.4, 0.6, 0.63, 0.66, 0.7, 0.74, 0.77, 0.8, 1]
ins1_i_my = [75, 75, 74, 70.5, 63, 55.5, 52, 51, 51, 52, 55.5, 63, 70.5, 74, 75, 75]
ins2_i = [52, 38, 65, 44, 30, 57, 47, 72, 41, 55, 35, 61, 49, 26, 58, 43, 68, 39, 53, 46,
          63, 33, 50, 45, 78, 40, 56, 29, 48, 60, 37, 54, 42, 66, 51, 31, 59, 44, 70, 47,
          36, 55, 12, 62, 43, 50, 34, 58, 46, 74, 40, 53, 28, 64, 48, 57, 38, 45, 67, 51,
          42, 60, 33, 49, 56, 39, 85, 46, 52, 30, 61, 44, 57, 36, 69, 48, 41, 54, 25, 59,
          47, 64, 38, 53, 43, 71, 50, 35, 58, 45, 62, 32, 55, 40, 49, 66, 37, 52, 44, 60,
          34, 57, 46, 73, 41, 51, 28, 63, 48, 55, 39, 59, 45, 21, 54, 42, 67, 50, 36, 58,
          49, 43, 61, 38, 56, 47, 90, 40, 53, 31, 65, 46, 57, 35, 52, 44, 69, 41, 59, 48,
          37, 62, 45, 54, 27, 58, 42, 50, 66, 39, 55, 47, 33, 60, 44, 72, 38, 53, 49, 56,
          41, 64, 35, 51, 46, 59, 30, 57, 43, 68, 48, 37, 54, 45, 62, 40, 55, 26, 50, 61,
          44, 53, 39, 70, 47, 58, 36, 52, 63, 42, 49, 34, 60, 46, 56, 41, 75, 48, 38, 54,
          50, 45, 62, 37, 57, 43, 66, 48, 32, 55, 46, 59, 40, 52, 71, 44, 58, 39, 51, 47]
ins2_i_mx = [0, 0.5, 1]
ins2_i_my = [47, 47.3, 47]

# typical error bar (percent of inset height)
err_u1, err_u2 = 12, 13
err_g1, err_g2 = 9, 12
err_r1, err_r2 = 6, 10
err_i1, err_i2 = 13, 13

# ---------------- figure ----------------
fig = plt.figure(figsize=(20.08, 14.89), dpi=100)

col_x = [0.0601, 0.5403]
row_main = [0.6558, 0.1857]
row_res = [0.5507, 0.0806]
ax_w, main_h, res_h = 0.4293, 0.3146, 0.1051

panels = [
    dict(lab=r"$u'$", col=0, row=0, flux=flux_u, resid=resid_u, model=model_u, band=band_u,
         ytop=160, yt=[0, 50, 100, 150], rl=10,
         ins=[([ins1_u], err_u1, ins1_u_mx, ins1_u_my),
              ([ins2_u], err_u2, ins2_u_mx, ins2_u_my)]),
    dict(lab=r"$g'$", col=1, row=0, flux=flux_g, resid=resid_g, model=model_g, band=band_g,
         ytop=150, yt=[0, 50, 100, 150], rl=5,
         ins=[([ins1_g, ins1_g_b], err_g1, ins1_g_mx, ins1_g_my),
              ([ins2_g, ins2_g_b], err_g2, ins2_g_mx, ins2_g_my)]),
    dict(lab=r"$r'$", col=0, row=1, flux=flux_r, resid=resid_r, model=model_r, band=band_r,
         ytop=150, yt=[0, 50, 100, 150], rl=10,
         ins=[([ins1_r], err_r1, ins1_r_mx, ins1_r_my),
              ([ins2_r, ins2_r_b], err_r2, ins2_r_mx, ins2_r_my)]),
    dict(lab=r"$i'$", col=1, row=1, flux=flux_i, resid=resid_i, model=model_i, band=band_i,
         ytop=230, yt=[0, 50, 100, 150, 200], rl=10,
         ins=[([ins1_i], err_i1, ins1_i_mx, ins1_i_my),
              ([ins2_i], err_i2, ins2_i_mx, ins2_i_my)]),
]

inset_rects = [[0.1497, 0.032, 0.327, 0.600], [0.5, 0.032, 0.328, 0.600]]
xt = [0, 0.25, 0.5, 0.75, 1]


def style(ax):
    ax.tick_params(which='both', direction='in', top=True, right=True, width=1.3,
                   labelsize=22.5)
    ax.tick_params(which='major', length=9)
    ax.tick_params(which='minor', length=5)
    ax.tick_params(axis='y', pad=13)
    ax.tick_params(axis='x', pad=12)
    for s in ax.spines.values():
        s.set_linewidth(2.0)


for p in panels:
    x0 = col_x[p['col']]
    ax = fig.add_axes([x0, row_main[p['row']], ax_w, main_h])
    rax = fig.add_axes([x0, row_res[p['row']], ax_w, res_h])

    # main light curve
    if p['band'] > 0:
        ax.axhspan(0, p['band'], color='#e4e4e4', lw=0, zorder=0)
        ax.axhline(p['band'], color='#cdcdcd', lw=1.6, zorder=0.5)
    ax.plot(model_phase, p['model'], color='#e1e1e1', lw=4.8, zorder=1)
    n = len(p['flux'])
    ax.plot(phase[:n], p['flux'], 'o', color='k', ms=5.0, mew=0, zorder=2)
    ax.set_xlim(-0.1, 1.1)
    ax.set_ylim(0, p['ytop'])
    ax.set_xticks(xt)
    ax.set_xticklabels([])
    ax.xaxis.set_minor_locator(MultipleLocator(0.125))
    ax.set_yticks(p['yt'])
    ax.set_yticklabels([str(v) for v in p['yt']])
    ax.yaxis.set_minor_locator(MultipleLocator(25))
    style(ax)

    ax.text(0.0557, 0.91, p['lab'], transform=ax.transAxes, fontsize=23,
            ha='center', va='center', zorder=7,
            bbox=dict(boxstyle='round,pad=0.38,rounding_size=0.45', fc='white',
                      ec='k', lw=2.8))

    # zoom insets
    for rect, (batches, err, mx, my) in zip(inset_rects, p['ins']):
        ins = ax.inset_axes(rect)
        for yv in batches:
            xs = np.linspace(0, 1, len(yv))
            ins.errorbar(xs, yv, yerr=err, fmt='o', ms=5.0, mew=0, color='k',
                         ecolor=(0, 0, 0, 0.38), elinewidth=1.8, capsize=0, zorder=2)
        ins.plot(mx, my, color='#c4c4c4', lw=7.0, zorder=3, solid_capstyle='butt')
        ins.plot(mx, my, color='#eeeeee', lw=4.8, zorder=4, solid_capstyle='butt')
        ins.set_xlim(0, 1)
        ins.set_ylim(0, 100)
        ins.set_xticks(np.arange(0.1, 0.95, 0.1))
        ins.set_yticks([])
        ins.set_xticklabels([])
        ins.tick_params(which='both', direction='in', top=True, bottom=True,
                        length=5, width=1.1)
        for s in ins.spines.values():
            s.set_linewidth(1.8)

    # residuals
    rl = p['rl']
    rax.axhline(0, color='#e4e4e4', lw=5, zorder=1)
    rax.plot(phase[:len(p['resid'])], p['resid'], 'o', color='k', ms=5.0, mew=0, zorder=2)
    rax.set_xlim(-0.1, 1.1)
    rax.set_ylim(-rl, rl)
    rax.set_xticks(xt)
    rax.set_xticklabels(['0', '0.25', '0.5', '0.75', '1'])
    rax.xaxis.set_minor_locator(MultipleLocator(0.125))
    if rl == 10:
        rticks = [-10, -5, 0, 5]
    else:
        rticks = [-5, 0]
    rax.set_yticks(rticks)
    rax.set_yticklabels([str(v) for v in rticks])
    rax.yaxis.set_minor_locator(MultipleLocator(1))
    style(rax)

fig.text(0.018, 0.528, r'Flux [$\mu$Jy]', rotation=90, fontsize=22.5,
         ha='center', va='center')
fig.text(0.523, 0.0195, 'Phase [p=0.1602727d]', fontsize=24,
         ha='center', va='center')

fig.savefig('out.png', dpi=100)
